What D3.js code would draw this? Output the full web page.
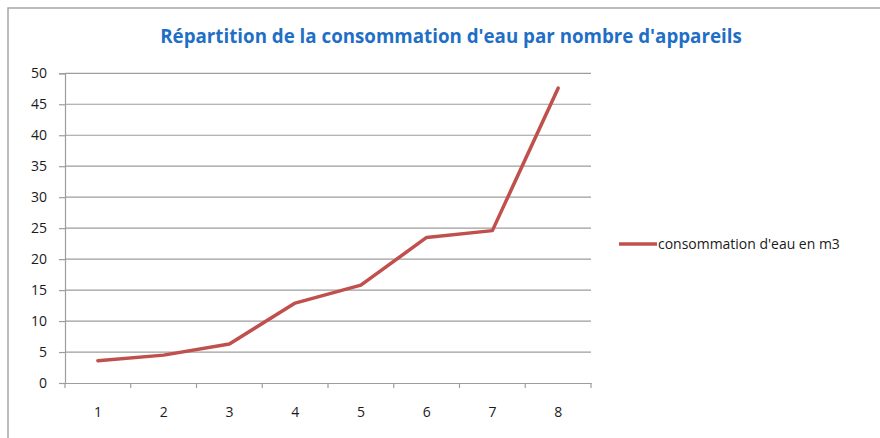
<!DOCTYPE html>
<html>
<head>
<meta charset="utf-8">
<script src="https://cdn.jsdelivr.net/npm/d3@7"></script>
<style>
  html, body { margin: 0; padding: 0; background: #fff; }
  svg { display: block; }
</style>
</head>
<body>
<svg id="chart" width="880" height="438"></svg>
<script>
const categories = ["1", "2", "3", "4", "5", "6", "7", "8"];
const values = [3.6, 4.5, 6.3, 12.9, 15.8, 23.5, 24.6, 47.6];
const yTicks = [0, 5, 10, 15, 20, 25, 30, 35, 40, 45, 50];
const titleText = "Répartition de la consommation d'eau par nombre d'appareils";
const seriesName = "consommation d'eau en m3";

const W = 880, H = 438;
const plot = { left: 65, right: 591, top: 73.3, bottom: 383 };
const svg = d3.select("#chart");
const fontFam = "'Open Sans', 'Liberation Sans', sans-serif";

// outer border
svg.append("rect")
  .attr("x", 8).attr("y", 8).attr("width", W + 10).attr("height", H + 10)
  .attr("fill", "#fff").attr("stroke", "#a6a6a6").attr("stroke-width", 1.5);

const x = d3.scaleBand().domain(categories).range([plot.left, plot.right]).padding(0);
const y = d3.scaleLinear().domain([0, 50]).range([plot.bottom, plot.top]);

// gridlines
svg.append("g").selectAll("line").data(yTicks.filter(t => t > 0)).join("line")
  .attr("x1", plot.left).attr("x2", plot.right)
  .attr("y1", d => y(d)).attr("y2", d => y(d))
  .attr("stroke", "#9d9d9d").attr("stroke-width", 1.2);

// y axis
const yAxis = svg.append("g")
  .attr("transform", `translate(${plot.left},0)`)
  .call(d3.axisLeft(y).tickValues(yTicks).tickSize(6).tickPadding(12));
yAxis.select(".domain").attr("stroke", "#9d9d9d").attr("stroke-width", 1.2);
yAxis.selectAll(".tick line").attr("stroke", "#9d9d9d").attr("stroke-width", 1.2);
yAxis.selectAll("text").attr("font-family", fontFam).attr("font-size", 14).attr("fill", "#1a1a1a");

// x axis
const xAxis = svg.append("g")
  .attr("transform", `translate(0,${plot.bottom})`)
  .call(d3.axisBottom(x).tickSize(0).tickPadding(24));
xAxis.select(".domain").attr("stroke", "#9d9d9d").attr("stroke-width", 1.2);
xAxis.selectAll("text").attr("font-family", fontFam).attr("font-size", 14).attr("fill", "#1a1a1a");
// x tick marks at category boundaries
const boundaries = categories.map(c => x(c)).concat([x(categories[categories.length - 1]) + x.bandwidth()]);
svg.append("g").selectAll("line").data(boundaries).join("line")
  .attr("x1", d => d).attr("x2", d => d)
  .attr("y1", plot.bottom).attr("y2", plot.bottom + 5)
  .attr("stroke", "#9d9d9d").attr("stroke-width", 1.2);

// line
const line = d3.line()
  .x((d, i) => x(categories[i]) + x.bandwidth() / 2)
  .y(d => y(d));
svg.append("path").datum(values)
  .attr("d", line)
  .attr("fill", "none").attr("stroke", "#c0504d").attr("stroke-width", 3.5)
  .attr("stroke-linejoin", "round").attr("stroke-linecap", "round");

// title
const title = svg.append("text")
  .attr("x", 451).attr("y", 43)
  .attr("text-anchor", "middle")
  .attr("font-family", fontFam).attr("font-weight", "bold").attr("font-size", 16)
  .attr("fill", "#1f6fc6")
  .text(titleText);
const tw = title.node().getComputedTextLength();
title.attr("font-size", 16 * 582 / tw);

// legend
svg.append("line")
  .attr("x1", 619).attr("x2", 657).attr("y1", 244).attr("y2", 244)
  .attr("stroke", "#c0504d").attr("stroke-width", 3.5);
const leg = svg.append("text")
  .attr("x", 658).attr("y", 249)
  .attr("font-family", fontFam).attr("font-size", 13).attr("fill", "#1a1a1a")
  .text(seriesName);
const lw = leg.node().getComputedTextLength();
leg.attr("font-size", 13 * 182 / lw);
</script>
</body>
</html>
